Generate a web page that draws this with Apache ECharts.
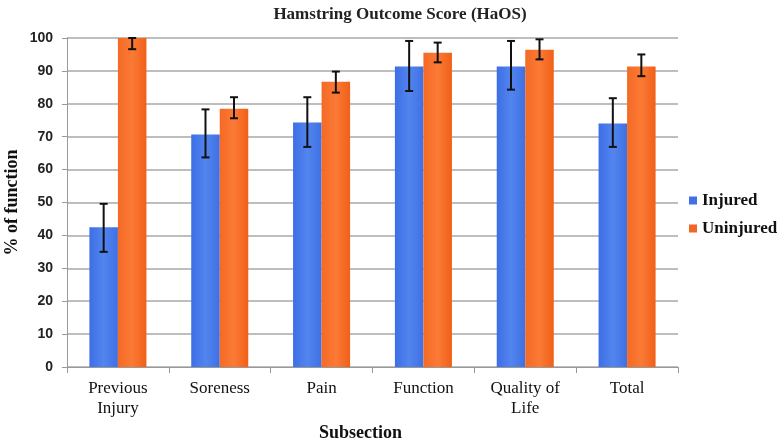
<!DOCTYPE html>
<html><head><meta charset="utf-8">
<script src="https://cdn.jsdelivr.net/npm/echarts@6/dist/echarts.min.js"></script>
<style>html,body{margin:0;padding:0;background:#fff}#c{width:780px;height:443px}</style>
</head><body><div id="c"></div>
<script>
const categories = ['Previous\nInjury', 'Soreness', 'Pain', 'Function', 'Quality of\nLife', 'Total'];
const injured = [42.5, 70.7, 74.3, 91.3, 91.3, 74.0];
const injuredLow = [35.0, 63.7, 66.9, 83.9, 84.3, 66.9];
const injuredHigh = [49.6, 78.3, 82.0, 99.1, 99.1, 81.7];
const uninjured = [100, 78.5, 86.7, 95.5, 96.4, 91.3];
const uninjuredLow = [96.6, 75.6, 83.4, 92.6, 93.5, 88.4];
const uninjuredHigh = [100, 82.0, 89.8, 98.6, 99.6, 95.0];
const yTicks = [0, 10, 20, 30, 40, 50, 60, 70, 80, 90, 100];

const BAR = 0.28;
const serif = '"Liberation Serif", "DejaVu Serif", serif';

function errSeries(low, high, sign) {
  return {
    type: 'custom',
    z: 5,
    silent: true,
    data: low.map((l, i) => [i, l, high[i]]),
    renderItem: function (params, api) {
      const i = api.value(0);
      const band = api.size([1, 0])[0];
      const p1 = api.coord([i, api.value(1)]);
      const p2 = api.coord([i, api.value(2)]);
      const x = p1[0] + sign * band * BAR / 2;
      const hw = 4;
      const st = { stroke: '#111', lineWidth: 2 };
      return {
        type: 'group',
        children: [
          { type: 'line', shape: { x1: x, y1: p1[1], x2: x, y2: p2[1] }, style: st },
          { type: 'line', shape: { x1: x - hw, y1: p1[1], x2: x + hw, y2: p1[1] }, style: st },
          { type: 'line', shape: { x1: x - hw, y1: p2[1], x2: x + hw, y2: p2[1] }, style: st }
        ]
      };
    }
  };
}

const blueGrad = new echarts.graphic.LinearGradient(0, 0, 1, 0, [
  { offset: 0, color: '#3d6ee6' }, { offset: 0.5, color: '#5285ee' }, { offset: 1, color: '#3f70e4' }
]);
const orangeGrad = new echarts.graphic.LinearGradient(0, 0, 1, 0, [
  { offset: 0, color: '#f46a24' }, { offset: 0.5, color: '#fb7a36' }, { offset: 1, color: '#f06018' }
]);

const chart = echarts.init(document.getElementById('c'));
chart.setOption({
  animation: false,
  backgroundColor: '#fff',
  title: {
    text: 'Hamstring Outcome Score (HaOS)',
    left: 395, top: 1, textAlign: 'center',
    textStyle: { fontFamily: serif, fontWeight: 'bold', fontSize: 17, color: '#222' }
  },
  legend: {
    orient: 'vertical', left: 684, top: 187,
    itemWidth: 8, itemHeight: 8, itemGap: 11,
    icon: 'rect',
    textStyle: { fontFamily: serif, fontWeight: 'bold', fontSize: 17, color: '#111' },
    data: [
      { name: 'Injured', itemStyle: { color: '#3f70e6' } },
      { name: 'Uninjured', itemStyle: { color: '#f26522' } }
    ]
  },
  grid: { left: 67, right: 102, top: 38, bottom: 76, outerBoundsMode: 'none', containLabel: false },
  xAxis: {
    type: 'category', data: categories,
    name: 'Subsection', nameLocation: 'middle', nameGap: 56,
    nameTextStyle: { fontFamily: serif, fontWeight: 'bold', fontSize: 18, color: '#111', padding: [0, 24, 0, 0] },
    axisLine: { lineStyle: { color: '#999', width: 1 } },
    axisTick: { show: true, length: 6, lineStyle: { color: '#999' } },
    axisLabel: { fontFamily: serif, fontSize: 17, color: '#111', margin: 12, lineHeight: 20 }
  },
  yAxis: {
    type: 'value', min: 0, max: 100, interval: 10,
    name: '% of function', nameLocation: 'middle', nameGap: 46, nameRotate: 90,
    nameMoveOverlap: false,
    nameTextStyle: { fontFamily: serif, fontWeight: 'bold', fontSize: 18, color: '#111' },
    axisLine: { show: true, lineStyle: { color: '#999' } },
    axisTick: { show: true, length: 5, lineStyle: { color: '#999' } },
    axisLabel: { fontFamily: '"Liberation Sans", Arial, sans-serif', fontWeight: 'bold', fontSize: 14, color: '#222', margin: 14,
      formatter: v => yTicks.includes(v) ? String(v) : '' },
    splitLine: { lineStyle: { color: '#a8a8a8', width: 1.5 } }
  },
  series: [
    { name: 'Injured', type: 'bar', data: injured, barWidth: (BAR * 100) + '%', barGap: '0%',
      itemStyle: { color: blueGrad } },
    { name: 'Uninjured', type: 'bar', data: uninjured, barWidth: (BAR * 100) + '%', barGap: '0%',
      itemStyle: { color: orangeGrad } },
    errSeries(injuredLow, injuredHigh, -1),
    errSeries(uninjuredLow, uninjuredHigh, 1)
  ]
});
</script></body></html>
